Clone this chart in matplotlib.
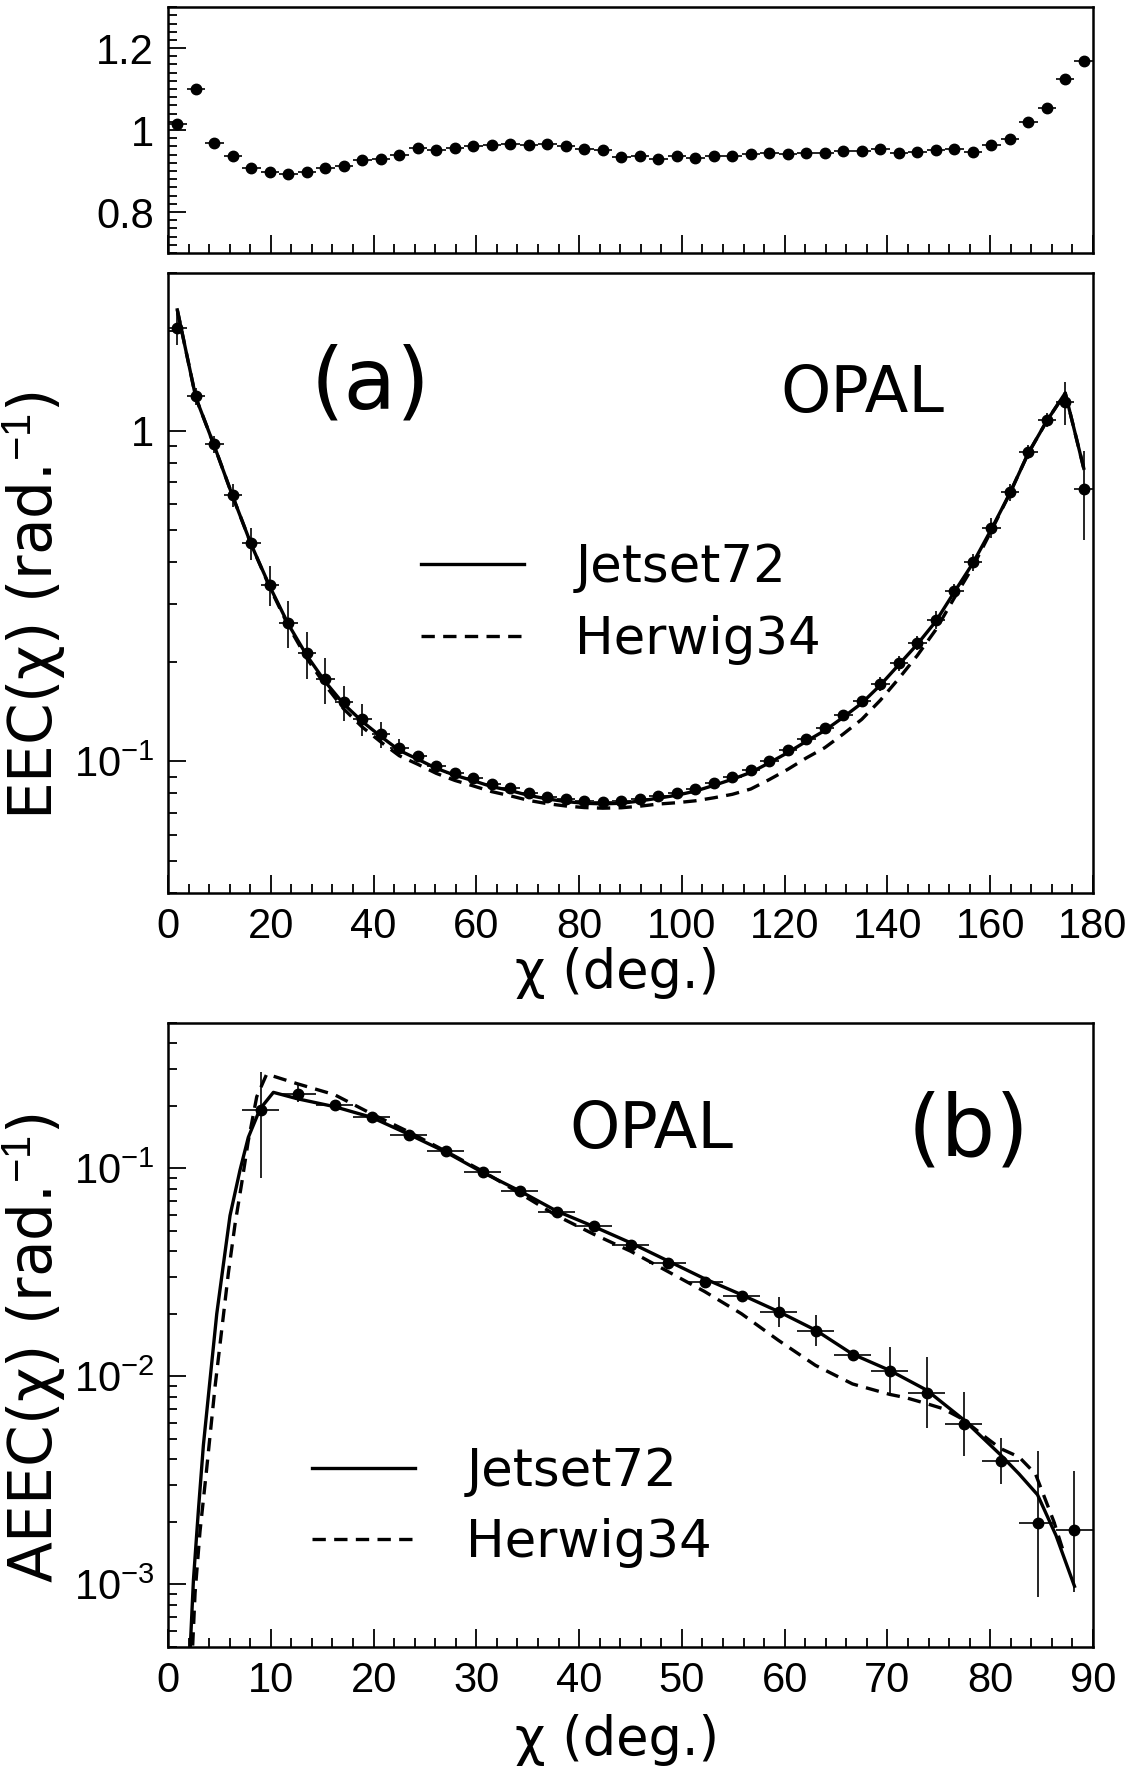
import matplotlib
matplotlib.use('Agg')
import matplotlib.pyplot as plt
from matplotlib.ticker import MultipleLocator, FixedLocator, FixedFormatter, LogLocator, NullFormatter

plt.rcParams['font.family'] = ['Liberation Sans', 'DejaVu Sans']
plt.rcParams['mathtext.fontset'] = 'custom'
plt.rcParams['mathtext.rm'] = 'Liberation Sans'
plt.rcParams['mathtext.it'] = 'Liberation Sans:italic'

TXT = ['DejaVu Sans']

# ---- EEC, 50 bins of 3.6 deg ----
chi_a = [1.8, 5.4, 9.0, 12.6, 16.2, 19.8, 23.4, 27.0, 30.6, 34.2,
         37.8, 41.4, 45.0, 48.6, 52.2, 55.8, 59.4, 63.0, 66.6, 70.2,
         73.8, 77.4, 81.0, 84.6, 88.2, 91.8, 95.4, 99.0, 102.6, 106.2,
         109.8, 113.4, 117.0, 120.6, 124.2, 127.8, 131.4, 135.0, 138.6, 142.2,
         145.8, 149.4, 153.0, 156.6, 160.2, 163.8, 167.4, 171.0, 174.6, 178.2]

ratio = [1.014, 1.101, 0.969, 0.937, 0.907, 0.898, 0.893, 0.898, 0.908, 0.913,
         0.927, 0.930, 0.940, 0.956, 0.952, 0.957, 0.960, 0.963, 0.966, 0.964,
         0.965, 0.960, 0.955, 0.951, 0.935, 0.937, 0.930, 0.937, 0.931, 0.938,
         0.938, 0.942, 0.944, 0.941, 0.943, 0.943, 0.950, 0.948, 0.954, 0.943,
         0.947, 0.951, 0.955, 0.947, 0.963, 0.978, 1.019, 1.055, 1.124, 1.168]

eec = [2.04, 1.27, 0.91, 0.64, 0.457, 0.342, 0.263, 0.212, 0.177, 0.151,
       0.134, 0.121, 0.110, 0.1035, 0.097, 0.0925, 0.089, 0.0853, 0.0832, 0.0801,
       0.0782, 0.0768, 0.0759, 0.0755, 0.0758, 0.0772, 0.0786, 0.0802, 0.0826, 0.086,
       0.0897, 0.094, 0.1005, 0.108, 0.117, 0.126, 0.138, 0.152, 0.172, 0.198,
       0.228, 0.268, 0.328, 0.401, 0.508, 0.652, 0.863, 1.079, 1.224, 0.668]

# relative errors (%)
eec_relerr = [11, 6, 6, 8, 11, 14, 16, 16, 16, 12,
              11, 9, 6, 4, 3, 3, 2, 2, 2, 2,
              2, 2, 2, 2, 2, 2, 2, 2, 2, 2,
              2, 2, 3, 3, 3, 3, 4, 4, 5, 5,
              5, 6, 5, 6, 7, 6, 5, 5, 15, 30]

jetset_a = [2.32, 1.26, 0.90, 0.632, 0.452, 0.338, 0.26, 0.209, 0.174, 0.149,
            0.132, 0.119, 0.108, 0.1015, 0.0953, 0.0908, 0.0874, 0.0839, 0.0816, 0.0789,
            0.077, 0.0756, 0.0747, 0.0744, 0.0747, 0.0759, 0.0774, 0.079, 0.0813, 0.0846,
            0.0883, 0.0926, 0.099, 0.1063, 0.115, 0.124, 0.136, 0.150, 0.170, 0.196,
            0.226, 0.265, 0.325, 0.397, 0.503, 0.646, 0.855, 1.07, 1.30, 0.77]

herwig_a = [2.32, 1.26, 0.90, 0.632, 0.452, 0.336, 0.257, 0.205, 0.170, 0.144,
            0.127, 0.1145, 0.104, 0.098, 0.092, 0.0876, 0.0843, 0.081, 0.0787, 0.0762,
            0.0745, 0.0733, 0.0725, 0.0722, 0.0724, 0.0732, 0.0743, 0.0750, 0.0760, 0.0776,
            0.0795, 0.0825, 0.0881, 0.0946, 0.1024, 0.110, 0.121, 0.134, 0.153, 0.178,
            0.209, 0.250, 0.312, 0.387, 0.498, 0.646, 0.855, 1.07, 1.30, 0.77]

# ---- AEEC ----
chi_b = [9.0, 12.6, 16.2, 19.8, 23.4, 27.0, 30.6, 34.2, 37.8, 41.4, 45.0, 48.6,
         52.2, 55.8, 59.4, 63.0, 66.6, 70.2, 73.8, 77.4, 81.0, 84.6, 88.2]
aeec = [0.19, 0.229, 0.202, 0.176, 0.144, 0.121, 0.0957, 0.078, 0.062, 0.053, 0.043, 0.0349,
        0.0283, 0.0243, 0.0204, 0.0166, 0.0127, 0.0106, 0.00835, 0.00593, 0.00393, 0.00197, 0.00182]
aeec_lo = [0.10, 0.020, 0.007, 0.006, 0.005, 0.004, 0.003, 0.0025, 0.002, 0.0018, 0.0015, 0.0012,
           0.001, 0.001, 0.0032, 0.0026, 0.0006, 0.0024, 0.0027, 0.0018, 0.0009, 0.0011, 0.0009]
aeec_hi = [0.10, 0.022, 0.007, 0.006, 0.005, 0.004, 0.003, 0.0025, 0.002, 0.0018, 0.0015, 0.0012,
           0.001, 0.001, 0.0038, 0.0031, 0.0006, 0.0032, 0.0040, 0.0025, 0.0011, 0.0024, 0.0017]

jet_b_x = [2.07, 2.47, 2.95, 3.44, 4.09, 4.74, 5.38, 6.03, 7.0, 7.81, 8.95, 10.25,
           12.6, 16.2, 19.8, 23.4, 27.0, 30.6, 34.2, 37.8, 41.4, 45.0, 48.6, 52.2,
           55.8, 59.4, 63.0, 66.6, 70.2, 73.8, 77.4, 81.0, 82.8, 84.6, 86.4, 88.2]
jet_b_y = [0.0004, 0.00105, 0.00226, 0.00468, 0.0097, 0.020, 0.0344, 0.0593, 0.098, 0.141, 0.193, 0.232,
           0.216, 0.198, 0.176, 0.146, 0.120, 0.0957, 0.078, 0.0624, 0.0526, 0.0439, 0.036, 0.0295,
           0.0247, 0.0205, 0.0167, 0.0128, 0.0107, 0.0086, 0.0062, 0.0042, 0.0034, 0.0027, 0.00172, 0.00098]

her_b_x = [2.3, 2.63, 3.11, 3.76, 4.57, 5.22, 5.87, 6.52, 7.17, 7.8, 8.63, 9.6,
           12.6, 16.2, 19.8, 23.4, 27.0, 30.6, 34.2, 37.8, 41.4, 45.0, 48.6, 52.2,
           55.8, 59.4, 63.0, 66.6, 70.2, 71.8, 73.8, 75.4, 77.4, 79.1, 81.0, 82.8,
           84.4, 86.2, 87.2]
her_b_y = [0.0004, 0.00091, 0.0018, 0.0036, 0.0089, 0.0167, 0.0314, 0.054, 0.085, 0.135, 0.221, 0.284,
           0.255, 0.226, 0.183, 0.150, 0.121, 0.097, 0.076, 0.0593, 0.0483, 0.040, 0.032, 0.0256,
           0.020, 0.0149, 0.0113, 0.0092, 0.0082, 0.0079, 0.0074, 0.0070, 0.0062, 0.0053, 0.0045, 0.0041,
           0.0034, 0.0020, 0.0014]

LW = 2.4
DASH = (4, 2.5)


def style(ax):
    for s in ax.spines.values():
        s.set_linewidth(1.8)
    ax.tick_params(which='both', direction='in', top=False, right=False, width=1.3)
    ax.tick_params(which='major', length=13, labelsize=30, pad=10)
    ax.tick_params(which='minor', length=6.5)


fig = plt.figure(figsize=(11.37, 17.76), dpi=100)
ax_r = fig.add_axes([0.1478, 0.8575, 0.8135, 0.1385])
ax_a = fig.add_axes([0.1478, 0.4972, 0.8135, 0.3491])
ax_b = fig.add_axes([0.1478, 0.0726, 0.8135, 0.3514])

# ratio panel
ax_r.errorbar(chi_a, ratio, xerr=1.8, fmt='o', color='k', ms=7.5, elinewidth=1.2, capsize=0)
ax_r.set_xlim(0, 180)
ax_r.set_ylim(0.7, 1.3)
ax_r.xaxis.set_major_locator(MultipleLocator(20))
ax_r.xaxis.set_minor_locator(MultipleLocator(4))
ax_r.xaxis.set_major_formatter(NullFormatter())
ax_r.yaxis.set_major_locator(FixedLocator([0.8, 1.0, 1.2]))
ax_r.yaxis.set_major_formatter(FixedFormatter(['0.8', '1', '1.2']))
ax_r.yaxis.set_minor_locator(MultipleLocator(0.02))
style(ax_r)

# (a) EEC
l_jet, = ax_a.plot(chi_a, jetset_a, color='k', lw=LW, label='Jetset72')
l_her, = ax_a.plot(chi_a, herwig_a, color='k', lw=LW, ls=(0, DASH), label='Herwig34')
ax_a.errorbar(chi_a, eec, xerr=1.8, yerr=[e * r / 100 for e, r in zip(eec, eec_relerr)],
              fmt='o', color='k', ms=7.5, elinewidth=1.2, capsize=0, zorder=4)
ax_a.set_yscale('log')
ax_a.set_xlim(0, 180)
ax_a.set_ylim(0.04, 3.0)
ax_a.xaxis.set_major_locator(MultipleLocator(20))
ax_a.xaxis.set_minor_locator(MultipleLocator(4))
ax_a.yaxis.set_major_locator(FixedLocator([0.1, 1.0]))
ax_a.yaxis.set_major_formatter(FixedFormatter([r'$10^{-1}$', '1']))
ax_a.yaxis.set_minor_locator(LogLocator(base=10, subs=range(2, 10)))
ax_a.yaxis.set_minor_formatter(NullFormatter())
style(ax_a)
ax_a.text(0.219, 0.819, '(a)', transform=ax_a.transAxes, family=TXT, fontsize=62,
          ha='center', va='center')
ax_a.text(0.751, 0.805, 'OPAL', transform=ax_a.transAxes, family=TXT, fontsize=46,
          ha='center', va='center')
ax_a.legend(handles=[l_jet, l_her], loc='upper left', bbox_to_anchor=(0.246, 0.606),
            frameon=False, borderpad=0, handlelength=2.0, handletextpad=1.0,
            labelspacing=0.42, prop={'family': TXT, 'size': 37})

# (b) AEEC
l_jet_b, = ax_b.plot(jet_b_x, jet_b_y, color='k', lw=LW, label='Jetset72')
l_her_b, = ax_b.plot(her_b_x, her_b_y, color='k', lw=LW, ls=(0, DASH), label='Herwig34')
ax_b.errorbar(chi_b, aeec, xerr=1.8, yerr=[aeec_lo, aeec_hi],
              fmt='o', color='k', ms=7.5, elinewidth=1.2, capsize=0, zorder=4)
ax_b.set_yscale('log')
ax_b.set_xlim(0, 90)
ax_b.set_ylim(5e-4, 0.5)
ax_b.xaxis.set_major_locator(MultipleLocator(10))
ax_b.xaxis.set_minor_locator(MultipleLocator(2))
ax_b.yaxis.set_major_locator(FixedLocator([1e-3, 1e-2, 1e-1]))
ax_b.yaxis.set_major_formatter(FixedFormatter([r'$10^{-3}$', r'$10^{-2}$', r'$10^{-1}$']))
ax_b.yaxis.set_minor_locator(LogLocator(base=10, subs=range(2, 10)))
ax_b.yaxis.set_minor_formatter(NullFormatter())
style(ax_b)
ax_b.text(0.523, 0.829, 'OPAL', transform=ax_b.transAxes, family=TXT, fontsize=46,
          ha='center', va='center')
ax_b.text(0.865, 0.825, '(b)', transform=ax_b.transAxes, family=TXT, fontsize=62,
          ha='center', va='center')
ax_b.legend(handles=[l_jet_b, l_her_b], loc='upper left', bbox_to_anchor=(0.128, 0.362),
            frameon=False, borderpad=0, handlelength=2.0, handletextpad=1.0,
            labelspacing=0.42, prop={'family': TXT, 'size': 37})

# axis titles
fig.text(34 / 1137, 1 - 606 / 1776, r'EEC(χ) (rad.$^{-1}$)', family=TXT, fontsize=43,
         rotation=90, ha='center', va='center')
fig.text(617 / 1137, 1 - 973 / 1776, 'χ (deg.)', family=TXT, fontsize=38,
         ha='center', va='center')
fig.text(34 / 1137, 1 - 1348 / 1776, r'AEEC(χ) (rad.$^{-1}$)', family=TXT, fontsize=43,
         rotation=90, ha='center', va='center')
fig.text(617 / 1137, 1 - 1740 / 1776, 'χ (deg.)', family=TXT, fontsize=38,
         ha='center', va='center')

fig.savefig('out.png', dpi=100)
